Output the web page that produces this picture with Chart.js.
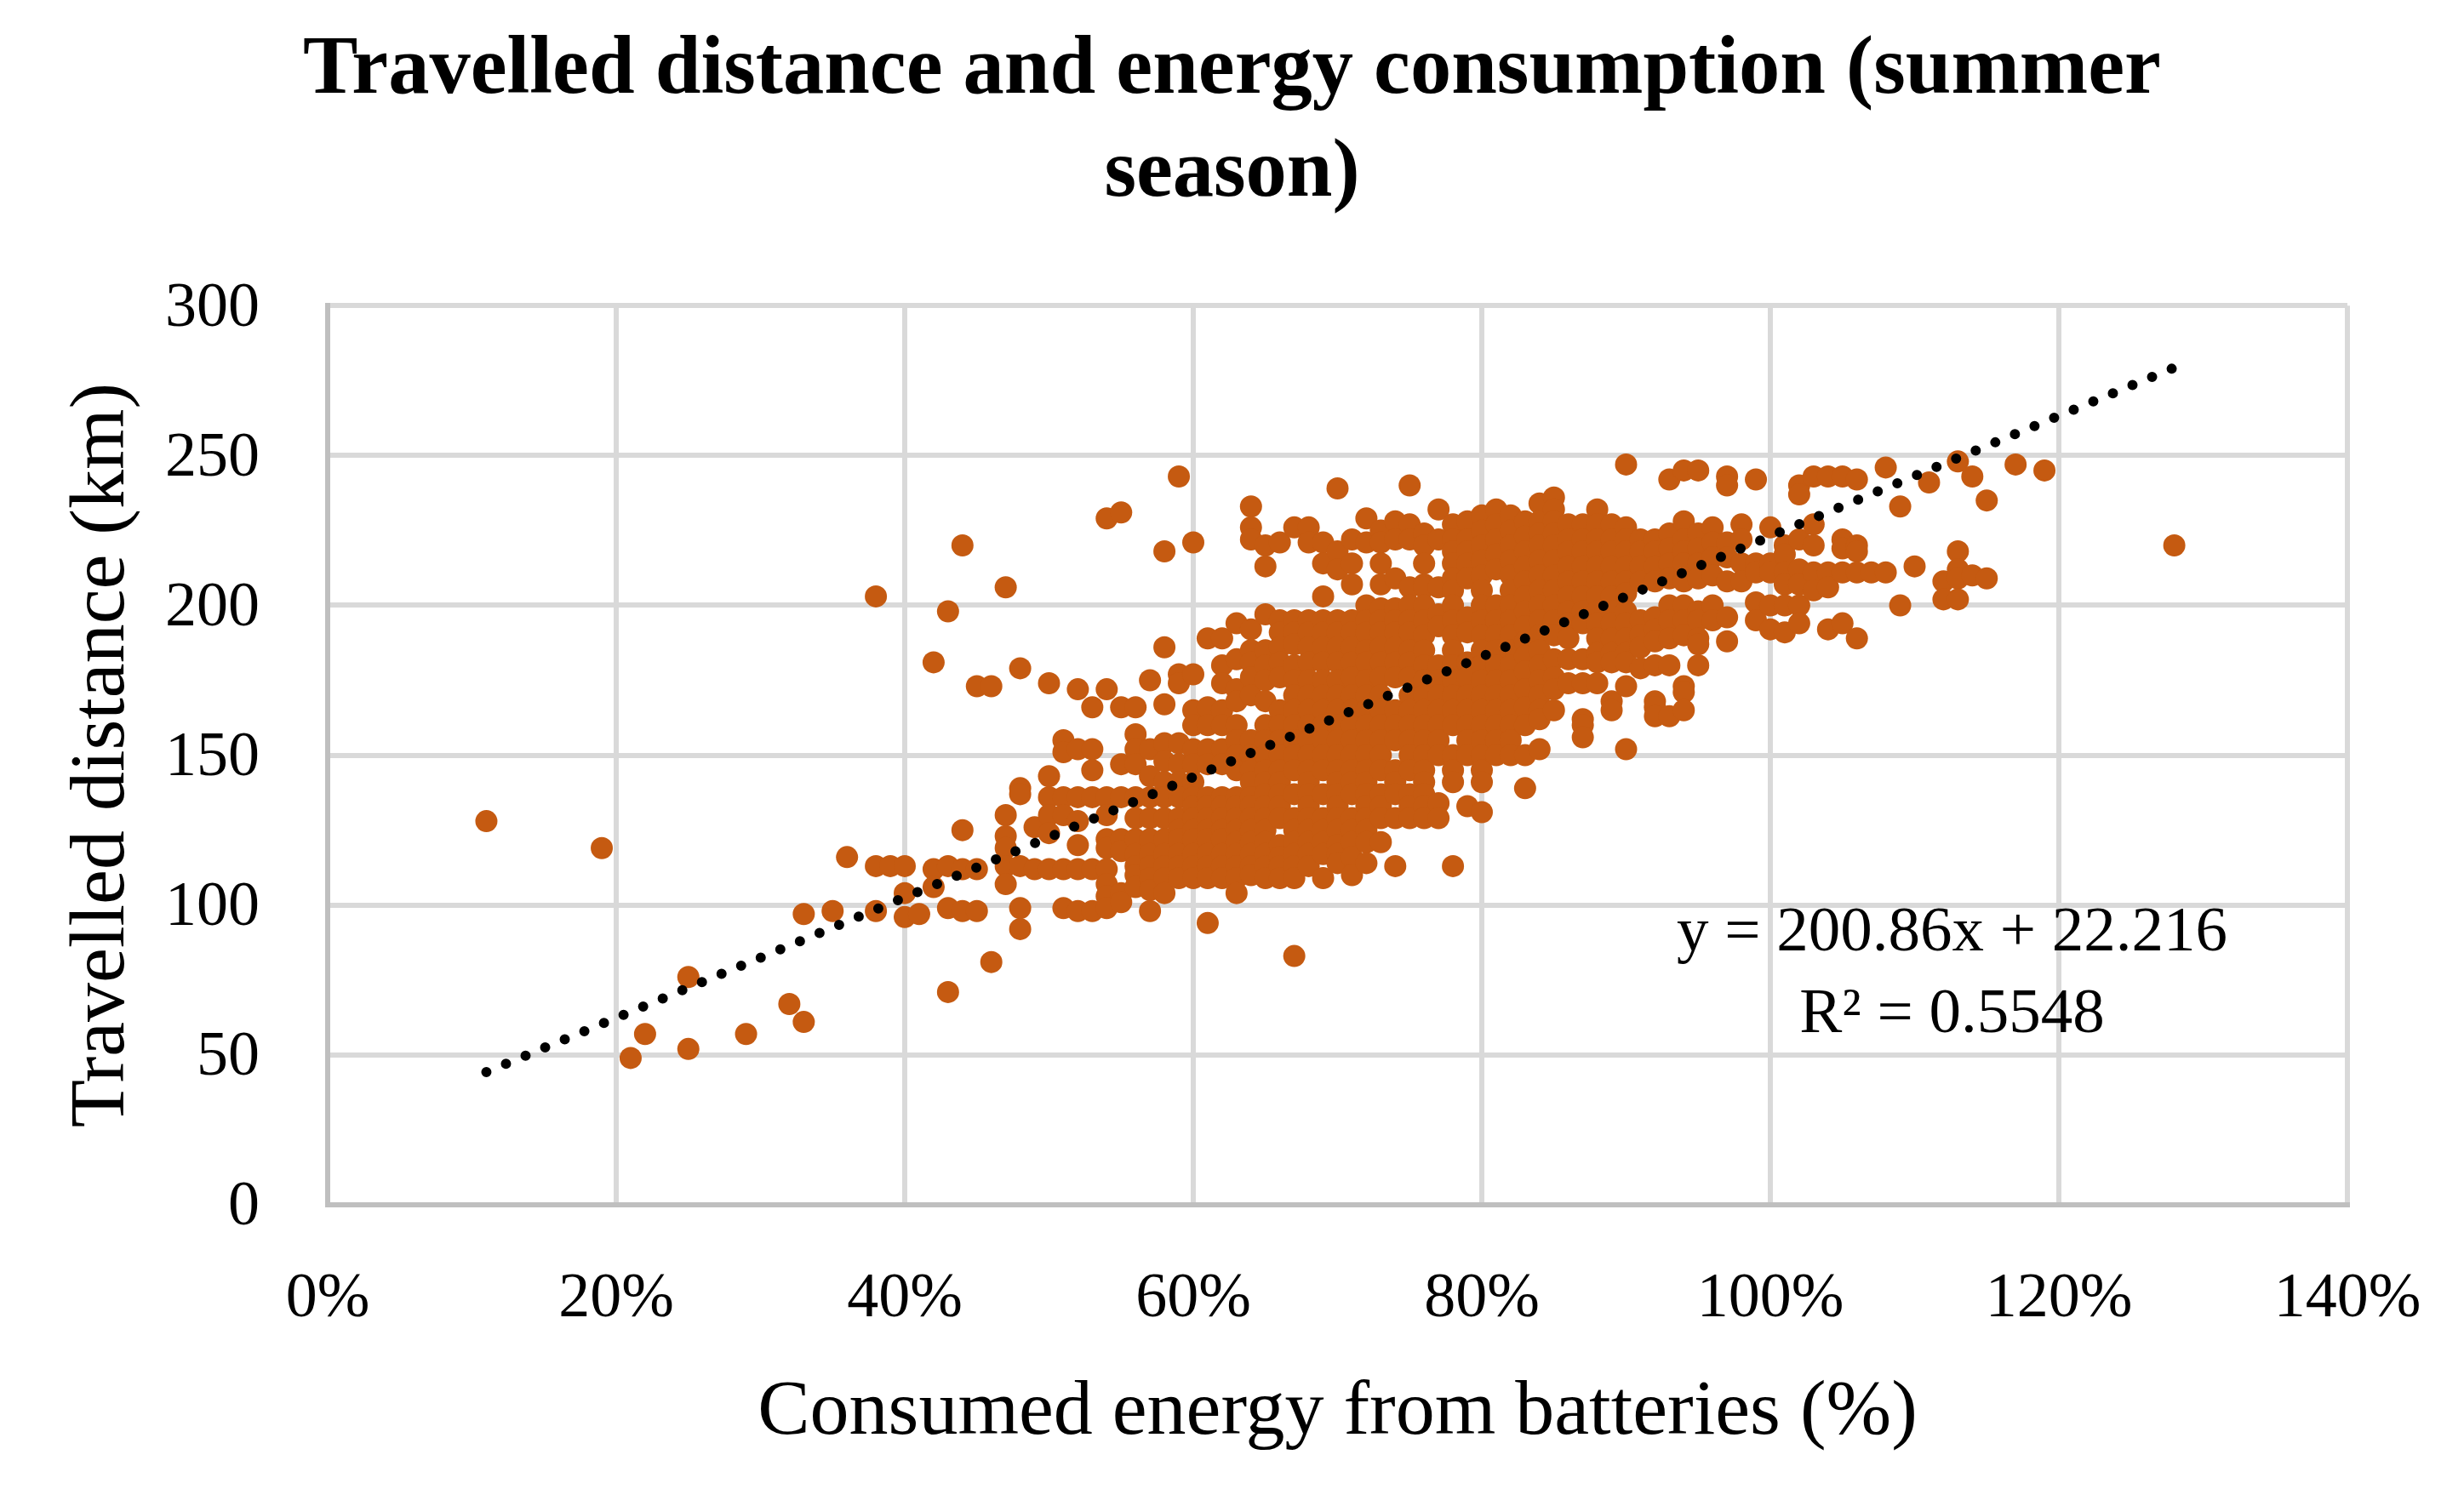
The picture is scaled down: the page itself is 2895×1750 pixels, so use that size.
<!DOCTYPE html>
<html lang="en">
<head>
  <meta charset="UTF-8" />
  <title>Travelled distance and energy consumption</title>
  <script src="https://cdn.jsdelivr.net/npm/chart.js"></script>
  <style>
    html, body { margin: 0; padding: 0; background: #ffffff; }
    canvas { display: block; }
  </style>
</head>
<body>
  <canvas id="scatterChart" width="2895" height="1750"></canvas>

  <script>
    // Consumed energy (%) for each column of readings, distances (km) in the same order
    const energyLevels = [
      11, 19, 21, 22, 25, 29, 32, 33, 35, 36, 38, 39, 40, 41, 42, 43, 44, 45, 46, 47, 48, 49, 50,
      51, 52, 53, 54, 55, 56, 57, 58, 59, 60, 61, 62, 63, 64, 65, 66, 67, 68, 69, 70,
      71, 72, 73, 74, 75, 76, 77, 78, 79, 80, 81, 82, 83, 84, 85, 86, 87, 88, 89, 90,
      91, 92, 93, 94, 95, 96, 97, 98, 99, 100, 101, 102, 103, 104, 105, 106, 107, 108,
      109, 110, 111, 112, 113, 114, 115, 117, 119, 128
    ];
    const distances = [
      [128], [119], [49], [57], [76, 52], [57], [67], [97, 61], [98], [116],
      [203, 113, 98], [113], [113, 104, 96], [97],
      [181, 112, 106],
      [198, 113, 99, 71],
      [220, 125, 112, 98],
      [173, 112, 98],
      [173, 81],
      [206, 130, 123, 119, 113, 107],
      [179, 139, 137, 113, 99, 92],
      [126, 112],
      [174, 143, 136, 130, 124, 112],
      [155, 151, 136, 130, 112, 99],
      [172, 152, 136, 128, 120, 112, 98],
      [166, 152, 145, 136, 112, 98],
      [229, 172, 136, 130, 122, 119, 112, 107, 103, 99],
      [231, 166, 147, 136, 122, 118, 104, 101],
      [166, 157, 152, 147, 136, 129, 122, 117, 113, 110, 106],
      [175, 152, 143, 136, 129, 122, 117, 113, 109, 105, 98],
      [218, 186, 167, 154, 148, 141, 136, 129, 122, 117, 113, 109, 104],
      [243, 177, 174, 154, 147, 141, 136, 129, 125, 122, 117, 113, 109],
      [221, 177, 165, 160, 152, 147, 141, 136, 133, 129, 125, 122, 117, 113, 109],
      [189, 166, 160, 152, 147, 136, 133, 129, 125, 122, 117, 113, 109, 94],
      [189, 180, 174, 165, 160, 152, 147, 136, 133, 129, 125, 122, 117, 113, 109],
      [194, 182, 172, 168, 160, 155, 150, 145, 136, 133, 129, 125, 121, 117, 113, 109, 104],
      [233, 226, 222, 192, 185, 181, 176, 170, 155, 150, 145, 141, 136, 133, 129, 125, 121, 117, 113, 110],
      [220, 213, 197, 185, 180, 175, 168, 160, 155, 150, 145, 141, 137, 133, 129, 125, 121, 117, 113, 109],
      [221, 195, 191, 186, 181, 176, 165, 160, 155, 150, 145, 141, 137, 133, 129, 120, 116, 113, 109],
      [226, 195, 191, 187, 180, 175, 170, 165, 160, 155, 150, 145, 137, 129, 125, 121, 117, 113, 109, 83],
      [226, 221, 195, 191, 186, 181, 175, 170, 165, 160, 155, 150, 145, 141, 137, 133, 129, 125, 121, 117, 113],
      [221, 214, 203, 195, 191, 186, 181, 175, 170, 165, 160, 155, 150, 145, 137, 129, 125, 121, 117, 109],
      [239, 218, 212, 195, 191, 186, 181, 175, 170, 165, 160, 155, 150, 145, 141, 137, 133, 129, 125, 120, 117, 114],
      [222, 214, 207, 195, 191, 186, 181, 176, 170, 165, 160, 155, 150, 145, 141, 137, 129, 125, 121, 116, 110],
      [229, 221, 200, 195, 191, 185, 181, 175, 170, 165, 160, 155, 150, 145, 141, 137, 133, 129, 125, 121, 114],
      [225, 221, 214, 207, 199, 195, 191, 186, 181, 176, 170, 165, 160, 155, 150, 145, 137, 133, 129, 121],
      [228, 222, 209, 199, 195, 191, 186, 181, 176, 165, 160, 155, 145, 141, 137, 129, 113],
      [240, 227, 222, 206, 200, 195, 191, 185, 181, 176, 170, 165, 160, 155, 150, 145, 137, 133, 129],
      [224, 220, 214, 207, 206, 200, 195, 190, 185, 180, 175, 170, 165, 160, 155, 150, 145, 141, 137, 133, 129],
      [232, 222, 206, 197, 193, 180, 175, 170, 165, 160, 155, 150, 134, 129],
      [227, 222, 218, 214, 209, 205, 200, 195, 190, 185, 180, 175, 170, 165, 160, 150, 145, 141, 113],
      [228, 222, 218, 214, 209, 196, 191, 181, 176, 170, 165, 160, 155, 150, 133],
      [230, 225, 220, 215, 210, 205, 200, 195, 190, 185, 180, 175, 170, 165, 160, 155, 150, 145, 141, 131],
      [232, 227, 222, 217, 212, 200, 195, 190, 185, 180, 175, 170, 165, 160, 155, 150],
      [230, 225, 220, 215, 210, 205, 200, 195, 190, 185, 180, 175, 170, 165, 160, 155, 150],
      [228, 223, 218, 213, 208, 203, 198, 193, 188, 183, 178, 172, 166, 160, 150, 139],
      [234, 228, 224, 220, 215, 210, 205, 200, 195, 190, 185, 180, 175, 170, 165, 162, 152],
      [236, 232, 228, 224, 220, 215, 210, 205, 200, 195, 190, 182, 176, 172, 165],
      [227, 222, 218, 213, 208, 203, 198, 194, 189, 182, 174],
      [227, 222, 218, 213, 208, 203, 198, 194, 182, 174, 162, 160, 156],
      [232, 227, 222, 218, 213, 208, 203, 198, 194, 189, 184, 181, 174],
      [227, 222, 218, 213, 208, 203, 198, 194, 189, 184, 181, 168, 165],
      [247, 226, 222, 218, 213, 208, 204, 198, 194, 189, 184, 181, 173, 152],
      [222, 218, 213, 208, 195, 190, 186, 179],
      [222, 218, 213, 208, 196, 192, 188, 180, 168, 166, 163],
      [242, 224, 219, 214, 209, 200, 195, 189, 180, 163],
      [245, 228, 222, 218, 214, 208, 200, 195, 190, 173, 171, 165],
      [245, 224, 219, 214, 209, 198, 195, 189, 187, 180],
      [226, 221, 216, 210, 200, 195],
      [243, 240, 221, 216, 208, 196, 188],
      [227, 222, 214, 208],
      [242, 214, 211, 201, 195],
      [226, 214, 211, 200, 192],
      [220, 217, 211, 207, 200, 191],
      [240, 237, 222, 212, 207, 200, 194],
      [243, 227, 220, 211, 205],
      [243, 211, 206, 192],
      [243, 222, 219, 211, 194],
      [242, 220, 218, 211, 189],
      [211],
      [246, 211],
      [233, 200],
      [213],
      [241],
      [208, 202],
      [248, 218, 212, 209, 202],
      [243, 210],
      [235, 209],
      [247],
      [245],
      [220]
    ];

    // Excel linear trendline, read at its two ends
    const trendEnergy = [11, 128];
    const trendDistance = [44.3, 279.3];
    const trendLabels = ['y = 200.86x + 22.216', 'R² = 0.5548'];

    const chartTitle = ['Travelled distance and energy consumption (summer', 'season)'];
    const xTitle = 'Consumed energy from batteries (%)';
    const yTitle = 'Travelled distance (km)';

    const points = energyLevels.flatMap((e, i) => distances[i].map(d => ({ x: e, y: d })));
    const trend = trendEnergy.map((e, i) => ({ x: e, y: trendDistance[i] }));

    const SERIF = "'Liberation Serif', serif";

    // trendline equation, placed in data space next to the line
    const equationLabel = {
      id: 'equationLabel',
      afterDraw(chart) {
        const { ctx, scales } = chart;
        ctx.save();
        ctx.font = `75px ${SERIF}`;
        ctx.fillStyle = '#000000';
        ctx.textAlign = 'center';
        ctx.textBaseline = 'alphabetic';
        ctx.fillText(trendLabels[0], scales.x.getPixelForValue(112.6), scales.y.getPixelForValue(85));
        ctx.fillText(trendLabels[1], scales.x.getPixelForValue(112.6), scales.y.getPixelForValue(57.5));
        ctx.restore();
      }
    };

    new Chart(document.getElementById('scatterChart'), {
      type: 'scatter',
      data: {
        datasets: [
          {
            label: 'Trend',
            data: trend,
            showLine: true,
            order: 0,
            pointRadius: 0,
            borderColor: '#000000',
            borderWidth: 12,
            borderDash: [0, 24.95],
            borderCapStyle: 'round'
          },
          {
            label: 'Trips',
            data: points,
            order: 1,
            pointRadius: 13,
            pointBorderWidth: 0,
            pointBackgroundColor: '#C55A11'
          }
        ]
      },
      plugins: [equationLabel],
      options: {
        responsive: false,
        animation: false,
        devicePixelRatio: 1,
        plugins: {
          legend: { display: false },
          tooltip: { enabled: false },
          title: {
            display: true,
            text: chartTitle,
            color: '#000000',
            font: { family: SERIF, size: 96.5, weight: 'bold', lineHeight: 1.26 },
            padding: { top: 23, bottom: 93 }
          }
        },
        scales: {
          x: {
            min: 0,
            max: 140,
            afterFit(scale) {
              scale.height = 334;
              scale.paddingRight = 137;
            },
            ticks: {
              stepSize: 20,
              padding: 67,
              color: '#000000',
              font: { family: SERIF, size: 74 },
              maxRotation: 0,
              callback: v => v + '%'
            },
            grid: { color: '#D9D9D9', lineWidth: 6, drawTicks: false },
            border: { color: '#BFBFBF', width: 6 },
            title: {
              display: true,
              text: xTitle,
              color: '#000000',
              font: { family: SERIF, size: 92 },
              padding: { top: 0, bottom: 34 }
            }
          },
          y: {
            min: 0,
            max: 300,
            afterFit(scale) { scale.width = 385; },
            ticks: {
              stepSize: 50,
              padding: 80,
              labelOffset: 4,
              color: '#000000',
              font: { family: SERIF, size: 74 }
            },
            grid: { color: '#D9D9D9', lineWidth: 6, drawTicks: false },
            border: { color: '#BFBFBF', width: 6 },
            title: {
              display: true,
              text: yTitle,
              color: '#000000',
              font: { family: SERIF, size: 92 },
              padding: { top: 66, bottom: 0 }
            }
          }
        }
      }
    });
  </script>
</body>
</html>
